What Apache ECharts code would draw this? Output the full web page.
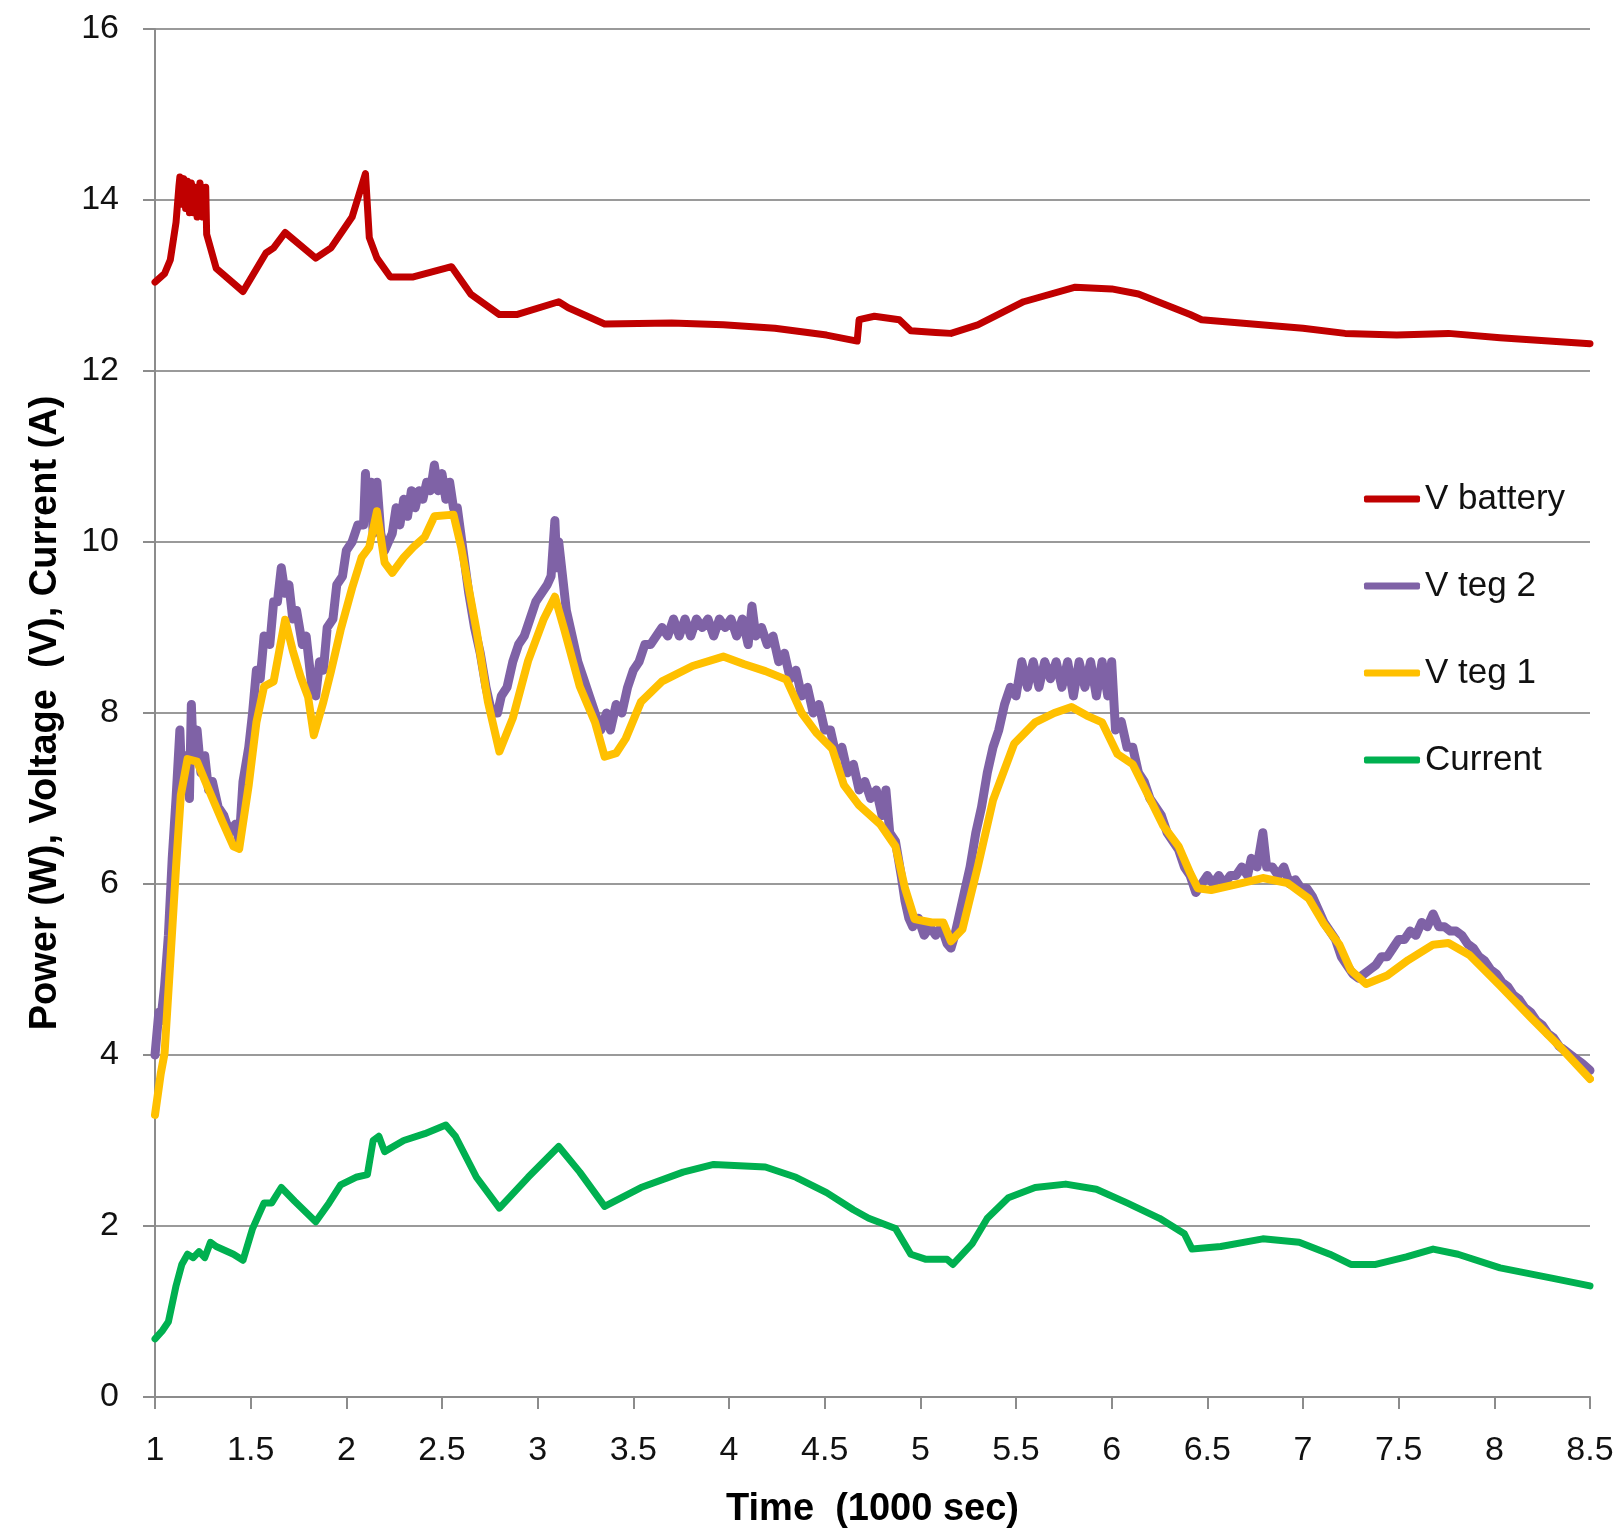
<!DOCTYPE html>
<html>
<head>
<meta charset="utf-8">
<script src="https://cdn.jsdelivr.net/npm/echarts@6/dist/echarts.min.js"></script>
<style>
html,body{margin:0;padding:0;background:#fff;}
#chart{width:1622px;height:1534px;}
</style>
</head>
<body>
<div id="chart"></div>
<script>
// ---- Data (time in 1000 sec, value) ----
const xTickLabels = ['1','1.5','2','2.5','3','3.5','4','4.5','5','5.5','6','6.5','7','7.5','8','8.5'];
const yTickLabels = ['0','2','4','6','8','10','12','14','16'];
const seriesNames = ['V battery', 'V teg 2', 'V teg 1', 'Current'];

const vBattery = [
  [1.00,13.04],[1.05,13.14],[1.08,13.30],[1.11,13.74],[1.125,14.16],[1.13,14.27],[1.14,13.95],[1.15,14.25],
  [1.16,13.9],[1.17,14.22],[1.18,13.85],[1.19,14.2],[1.20,13.85],[1.21,14.15],[1.22,13.8],[1.235,14.2],
  [1.25,13.8],[1.265,14.15],[1.27,13.6],[1.29,13.44],[1.32,13.20],[1.46,12.93],[1.58,13.38],[1.62,13.44],
  [1.68,13.62],[1.84,13.32],[1.92,13.44],[2.03,13.80],[2.10,14.31],[2.12,13.56],[2.16,13.32],[2.23,13.10],
  [2.35,13.10],[2.55,13.22],[2.65,12.90],[2.80,12.66],[2.89,12.66],[3.11,12.81],[3.16,12.74],[3.35,12.55],
  [3.70,12.56],[3.97,12.54],[4.24,12.50],[4.51,12.42],[4.67,12.35],[4.68,12.60],[4.76,12.64],[4.89,12.60],
  [4.95,12.47],[5.08,12.45],[5.16,12.44],[5.30,12.54],[5.54,12.81],[5.81,12.98],[6.00,12.96],[6.14,12.90],
  [6.41,12.66],[6.47,12.60],[7.00,12.50],[7.22,12.44],[7.49,12.42],[7.76,12.44],[8.03,12.39],[8.50,12.32]
];

const vTeg2 = [
  [1.00,4.0],[1.02,4.5],[1.03,4.4],[1.05,4.8],[1.07,5.4],[1.09,6.3],[1.11,7.0],[1.13,7.8],[1.14,7.2],[1.16,7.5],
  [1.18,7.0],[1.19,8.1],[1.20,7.5],[1.22,7.8],[1.24,7.3],[1.26,7.5],[1.28,7.1],[1.30,7.2],[1.33,6.9],[1.36,6.8],
  [1.39,6.6],[1.42,6.7],[1.44,6.5],[1.46,7.2],[1.49,7.6],[1.51,8.0],[1.53,8.5],[1.55,8.4],[1.57,8.9],[1.60,8.8],
  [1.62,9.3],[1.64,9.3],[1.66,9.7],[1.68,9.4],[1.70,9.5],[1.72,9.1],[1.74,9.2],[1.77,8.8],[1.79,8.9],[1.82,8.3],
  [1.84,8.2],[1.86,8.6],[1.88,8.5],[1.90,9.0],[1.93,9.1],[1.95,9.5],[1.98,9.6],[2.00,9.9],[2.03,10.0],[2.06,10.2],
  [2.09,10.2],[2.10,10.8],[2.11,10.3],[2.13,10.7],[2.14,10.1],[2.16,10.7],[2.18,10.1],[2.20,9.9],[2.22,10.0],[2.24,10.1],
  [2.26,10.4],[2.28,10.2],[2.30,10.5],[2.32,10.3],[2.34,10.6],[2.36,10.4],[2.38,10.6],[2.40,10.5],[2.42,10.7],[2.44,10.6],
  [2.46,10.9],[2.48,10.6],[2.50,10.8],[2.52,10.5],[2.54,10.7],[2.56,10.4],[2.58,10.4],[2.61,9.9],[2.64,9.4],[2.67,9.0],
  [2.70,8.7],[2.73,8.3],[2.76,8.0],[2.79,8.0],[2.81,8.2],[2.84,8.3],[2.87,8.6],[2.90,8.8],[2.93,8.9],[2.96,9.1],
  [2.99,9.3],[3.02,9.4],[3.05,9.5],[3.07,9.6],[3.09,10.25],[3.10,9.7],[3.11,10.0],[3.13,9.6],[3.15,9.2],[3.18,8.9],
  [3.21,8.6],[3.24,8.4],[3.27,8.2],[3.30,8.0],[3.33,7.8],[3.36,8.0],[3.38,7.8],[3.41,8.1],[3.44,8.0],[3.47,8.3],
  [3.50,8.5],[3.53,8.6],[3.56,8.8],[3.59,8.8],[3.62,8.9],[3.65,9.0],[3.68,8.9],[3.71,9.1],[3.74,8.9],[3.77,9.1],
  [3.80,8.9],[3.83,9.1],[3.86,9.0],[3.89,9.1],[3.92,8.9],[3.95,9.1],[3.98,9.0],[4.01,9.1],[4.04,8.9],[4.07,9.1],
  [4.10,8.8],[4.12,9.25],[4.14,8.9],[4.17,9.0],[4.20,8.8],[4.23,8.9],[4.26,8.6],[4.29,8.7],[4.32,8.4],[4.35,8.5],
  [4.38,8.2],[4.41,8.3],[4.44,8.0],[4.47,8.1],[4.50,7.8],[4.53,7.8],[4.56,7.5],[4.59,7.6],[4.62,7.3],[4.65,7.4],
  [4.68,7.1],[4.71,7.2],[4.74,7.0],[4.77,7.1],[4.80,6.8],[4.82,7.1],[4.84,6.6],[4.87,6.5],[4.90,6.1],[4.92,5.8],
  [4.94,5.6],[4.96,5.5],[4.99,5.6],[5.02,5.4],[5.05,5.5],[5.08,5.4],[5.11,5.5],[5.14,5.3],[5.16,5.25],[5.18,5.4],
  [5.20,5.6],[5.23,5.9],[5.26,6.2],[5.29,6.6],[5.32,6.9],[5.35,7.3],[5.38,7.6],[5.41,7.8],[5.44,8.1],[5.47,8.3],
  [5.50,8.2],[5.53,8.6],[5.56,8.3],[5.59,8.6],[5.62,8.3],[5.65,8.6],[5.68,8.4],[5.71,8.6],[5.74,8.3],[5.77,8.6],
  [5.80,8.2],[5.83,8.6],[5.86,8.3],[5.89,8.6],[5.92,8.2],[5.95,8.6],[5.98,8.2],[6.00,8.6],[6.02,7.8],[6.05,7.9],
  [6.08,7.6],[6.11,7.6],[6.14,7.3],[6.17,7.2],[6.20,7.0],[6.23,6.9],[6.26,6.8],[6.29,6.6],[6.32,6.5],[6.35,6.4],
  [6.38,6.2],[6.41,6.1],[6.44,5.9],[6.47,6.0],[6.50,6.1],[6.53,6.0],[6.56,6.1],[6.59,6.0],[6.62,6.1],[6.65,6.1],
  [6.68,6.2],[6.71,6.1],[6.73,6.3],[6.76,6.2],[6.79,6.6],[6.81,6.2],[6.84,6.2],[6.87,6.1],[6.90,6.2],[6.93,6.0],
  [6.96,6.05],[6.99,5.95],[7.02,5.95],[7.05,5.85],[7.08,5.7],[7.11,5.55],[7.14,5.45],[7.17,5.35],[7.20,5.15],[7.23,5.05],
  [7.26,4.95],[7.29,4.9],[7.32,4.95],[7.35,5.0],[7.38,5.05],[7.41,5.15],[7.44,5.15],[7.47,5.25],[7.50,5.35],[7.53,5.35],
  [7.56,5.45],[7.59,5.4],[7.62,5.55],[7.65,5.5],[7.68,5.65],[7.71,5.5],[7.74,5.5],[7.77,5.45],[7.80,5.45],[7.83,5.4],
  [7.86,5.3],[7.89,5.25],[7.92,5.15],[7.95,5.1],[7.98,5.0],[8.01,4.95],[8.04,4.85],[8.07,4.8],[8.10,4.7],[8.13,4.65],
  [8.16,4.55],[8.19,4.5],[8.22,4.4],[8.25,4.35],[8.28,4.25],[8.31,4.2],[8.34,4.1],[8.37,4.05],[8.40,4.0],[8.43,3.95],
  [8.46,3.9],[8.50,3.82]
];

const vTeg1 = [
  [1.00,3.30],[1.03,3.78],[1.05,4.02],[1.08,5.10],[1.11,6.20],[1.135,7.04],[1.17,7.46],[1.22,7.43],[1.27,7.16],
  [1.35,6.74],[1.41,6.44],[1.44,6.41],[1.49,7.16],[1.53,7.89],[1.57,8.31],[1.62,8.37],[1.65,8.73],[1.68,9.09],
  [1.72,8.73],[1.76,8.43],[1.80,8.19],[1.83,7.74],[1.88,8.13],[1.92,8.49],[1.97,8.97],[2.03,9.46],[2.08,9.82],
  [2.12,9.94],[2.16,10.36],[2.20,9.76],[2.24,9.64],[2.30,9.82],[2.35,9.94],[2.41,10.06],[2.46,10.30],[2.56,10.32],
  [2.60,9.94],[2.68,8.97],[2.74,8.13],[2.80,7.55],[2.87,7.94],[2.95,8.61],[3.03,9.09],[3.09,9.36],[3.14,8.97],
  [3.22,8.31],[3.30,7.89],[3.35,7.49],[3.41,7.53],[3.46,7.70],[3.54,8.13],[3.65,8.37],[3.81,8.55],[3.97,8.66],
  [4.08,8.57],[4.19,8.49],[4.30,8.39],[4.38,8.00],[4.46,7.76],[4.54,7.58],[4.60,7.16],[4.68,6.92],[4.79,6.70],
  [4.87,6.44],[4.92,5.95],[4.97,5.59],[5.06,5.55],[5.12,5.55],[5.16,5.33],[5.22,5.47],[5.30,6.20],[5.38,6.98],
  [5.49,7.64],[5.60,7.89],[5.70,8.00],[5.79,8.07],[5.87,7.97],[5.95,7.89],[6.03,7.52],[6.11,7.40],[6.19,7.04],
  [6.27,6.68],[6.35,6.44],[6.41,6.13],[6.45,5.95],[6.52,5.93],[6.68,6.01],[6.79,6.07],[6.92,6.01],[7.03,5.83],
  [7.11,5.53],[7.19,5.29],[7.25,4.99],[7.33,4.83],[7.44,4.93],[7.55,5.11],[7.68,5.29],[7.76,5.31],[7.87,5.17],
  [8.03,4.81],[8.19,4.44],[8.35,4.08],[8.50,3.72]
];

const current = [
  [1.00,0.68],[1.04,0.78],[1.07,0.88],[1.11,1.30],[1.14,1.55],[1.17,1.67],[1.20,1.63],[1.23,1.70],[1.26,1.63],
  [1.29,1.81],[1.32,1.76],[1.41,1.67],[1.46,1.60],[1.51,1.97],[1.57,2.27],[1.61,2.27],[1.66,2.45],[1.73,2.29],
  [1.84,2.05],[1.91,2.27],[1.97,2.48],[2.05,2.57],[2.11,2.60],[2.14,3.00],[2.17,3.05],[2.20,2.87],[2.30,3.00],
  [2.41,3.08],[2.52,3.18],[2.57,3.05],[2.68,2.57],[2.80,2.21],[2.95,2.57],[3.11,2.93],[3.22,2.63],[3.35,2.23],
  [3.54,2.45],[3.76,2.63],[3.92,2.72],[4.19,2.69],[4.35,2.57],[4.51,2.39],[4.65,2.19],[4.73,2.09],[4.87,1.97],
  [4.95,1.67],[5.03,1.61],[5.14,1.61],[5.17,1.55],[5.27,1.79],[5.35,2.09],[5.46,2.33],[5.60,2.45],[5.76,2.49],
  [5.92,2.43],[6.08,2.27],[6.25,2.09],[6.38,1.91],[6.42,1.73],[6.57,1.76],[6.79,1.85],[6.98,1.81],[7.14,1.67],
  [7.25,1.55],[7.38,1.55],[7.54,1.64],[7.68,1.73],[7.81,1.67],[8.03,1.51],[8.30,1.39],[8.50,1.30]
];

const FONT = "'Liberation Sans', Arial, sans-serif";

const chart = echarts.init(document.getElementById('chart'), null, {renderer: 'canvas'});

function lineSeries(name, data, color, width) {
  return {
    name: name, type: 'line', data: data, showSymbol: false, symbol: 'none',
    smooth: false, animation: false,
    lineStyle: {color: color, width: width, join: 'round', cap: 'round'},
    itemStyle: {color: color}
  };
}

const option = {
  backgroundColor: '#ffffff',
  animation: false,
  grid: {left: 155, right: 32, top: 29, bottom: 134, containLabel: false},
  legend: {
    orient: 'vertical', left: 1359, top: 474,
    itemWidth: 56, itemHeight: 7, itemGap: 47, icon: 'roundRect',
    data: seriesNames,
    textStyle: {fontFamily: FONT, fontSize: 35, color: '#111', lineHeight: 40, padding: [0,0,0,0]}
  },
  xAxis: {
    type: 'value', min: 1, max: 8.5, interval: 0.5,
    name: 'Time  (1000 sec)', nameLocation: 'middle', nameGap: 94,
    nameTextStyle: {fontFamily: FONT, fontSize: 38, fontWeight: 'bold', color: '#000'},
    axisLine: {show: true, onZero: false, lineStyle: {color: '#8c8c8c', width: 2}},
    axisTick: {show: true, length: 12, lineStyle: {color: '#8c8c8c', width: 2}},
    splitLine: {show: false},
    axisLabel: {
      fontFamily: FONT, fontSize: 34, color: '#111', margin: 37,
      formatter: function (v) { const i = Math.round((v - 1) / 0.5); return xTickLabels[i] !== undefined ? xTickLabels[i] : ''; }
    }
  },
  yAxis: {
    type: 'value', min: 0, max: 16, interval: 2,
    name: 'Power (W), Voltage  (V), Current (A)', nameLocation: 'middle', nameGap: 90, nameRotate: 90,
    nameTextStyle: {fontFamily: FONT, fontSize: 38, fontWeight: 'bold', color: '#000'},
    axisLine: {show: true, lineStyle: {color: '#8c8c8c', width: 2}},
    axisTick: {show: true, length: 12, lineStyle: {color: '#8c8c8c', width: 2}},
    splitLine: {show: true, lineStyle: {color: '#9a9a9a', width: 2}},
    axisLabel: {
      fontFamily: FONT, fontSize: 34, color: '#111', margin: 36,
      formatter: function (v) { const i = Math.round(v / 2); return yTickLabels[i] !== undefined ? yTickLabels[i] : ''; }
    }
  },
  series: [
    lineSeries(seriesNames[0], vBattery, '#C00000', 7),
    lineSeries(seriesNames[1], vTeg2, '#7F62A6', 9),
    lineSeries(seriesNames[2], vTeg1, '#FFC000', 8),
    lineSeries(seriesNames[3], current, '#00B050', 7)
  ]
};
chart.setOption(option);
</script>
</body>
</html>
